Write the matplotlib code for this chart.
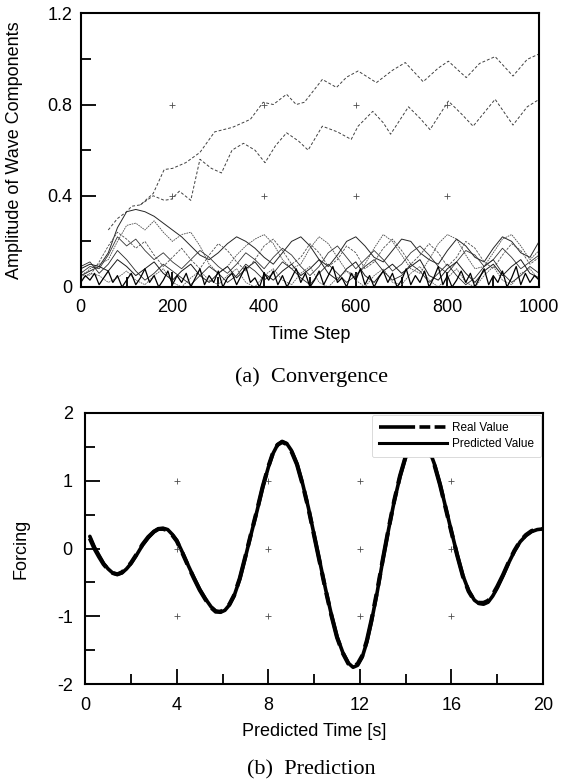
import matplotlib
matplotlib.use('Agg')
import matplotlib.pyplot as plt
from matplotlib.ticker import MultipleLocator, FixedLocator
import matplotlib.lines as mlines

plt.rcParams['font.family'] = ['Liberation Sans', 'DejaVu Sans']
plt.rcParams['axes.unicode_minus'] = False

# ---------------- data: (a) convergence ----------------
step20 = list(range(0, 1001, 20))
step10 = list(range(0, 1001, 10))

low_1 = [0.05, 0.07, 0.09, 0.15, 0.26, 0.33, 0.34, 0.33, 0.31, 0.28,
         0.25, 0.22, 0.18, 0.14, 0.12, 0.15, 0.19, 0.22, 0.20, 0.17,
         0.13, 0.10, 0.15, 0.20, 0.22, 0.18, 0.12, 0.09, 0.14, 0.20,
         0.22, 0.18, 0.13, 0.11, 0.16, 0.21, 0.20, 0.15, 0.12, 0.10,
         0.16, 0.21, 0.18, 0.13, 0.11, 0.17, 0.22, 0.20, 0.15, 0.13,
         0.20]
low_2 = [0.04, 0.08, 0.10, 0.12, 0.20, 0.27, 0.28, 0.25, 0.29, 0.24,
         0.20, 0.23, 0.24, 0.18, 0.10, 0.06, 0.09, 0.14, 0.18, 0.21,
         0.23, 0.19, 0.12, 0.08, 0.10, 0.17, 0.22, 0.19, 0.13, 0.07,
         0.05, 0.10, 0.17, 0.23, 0.20, 0.14, 0.08, 0.06, 0.12, 0.19,
         0.23, 0.21, 0.14, 0.08, 0.09, 0.15, 0.21, 0.23, 0.18, 0.12,
         0.16]
low_3 = [0.06, 0.09, 0.08, 0.14, 0.22, 0.18, 0.21, 0.16, 0.12, 0.15,
         0.11, 0.08, 0.12, 0.16, 0.13, 0.09, 0.06, 0.10, 0.15, 0.12,
         0.08, 0.13, 0.17, 0.14, 0.09, 0.05, 0.09, 0.15, 0.18, 0.13,
         0.08, 0.12, 0.16, 0.12, 0.07, 0.10, 0.15, 0.18, 0.14, 0.09,
         0.06, 0.11, 0.16, 0.14, 0.09, 0.12, 0.17, 0.13, 0.08, 0.11,
         0.14]
low_4 = [0.08, 0.10, 0.09, 0.07, 0.12, 0.09, 0.05, 0.08, 0.11, 0.06,
         0.03, 0.07, 0.10, 0.05, 0.02, 0.06, 0.09, 0.04, 0.08, 0.11,
         0.06, 0.03, 0.07, 0.10, 0.05, 0.08, 0.12, 0.06, 0.03, 0.08,
         0.11, 0.05, 0.02, 0.07, 0.10, 0.06, 0.09, 0.12, 0.05, 0.03,
         0.08, 0.11, 0.06, 0.02, 0.07, 0.10, 0.05, 0.09, 0.12, 0.06,
         0.04]
low_5 = [0.03, 0.06, 0.05, 0.02, 0.04, 0.07, 0.03, 0.01, 0.05, 0.08,
         0.02, 0.00, 0.04, 0.07, 0.03, 0.01, 0.05, 0.08, 0.02, 0.00,
         0.05, 0.08, 0.03, 0.01, 0.06, 0.09, 0.02, 0.00, 0.04, 0.07,
         0.03, 0.00, 0.05, 0.08, 0.02, 0.01, 0.06, 0.09, 0.03, 0.00,
         0.04, 0.08, 0.02, 0.00, 0.05, 0.09, 0.03, 0.01, 0.06, 0.08,
         0.03]
low_6 = [0.07, 0.05, 0.11, 0.18, 0.24, 0.21, 0.17, 0.20, 0.14, 0.09,
         0.13, 0.17, 0.12, 0.08, 0.14, 0.19, 0.16, 0.11, 0.07, 0.12,
         0.18, 0.21, 0.16, 0.10, 0.13, 0.19, 0.15, 0.09, 0.12, 0.18,
         0.15, 0.08, 0.11, 0.17, 0.21, 0.16, 0.10, 0.14, 0.19, 0.15,
         0.09, 0.13, 0.20, 0.17, 0.11, 0.08, 0.14, 0.19, 0.16, 0.10,
         0.13]
low_7 = [0.09, 0.11, 0.06, 0.10, 0.16, 0.12, 0.07, 0.03, 0.06, 0.10,
         0.07, 0.04, 0.01, 0.05, 0.09, 0.06, 0.02, 0.05, 0.10, 0.07,
         0.03, 0.06, 0.11, 0.08, 0.04, 0.01, 0.06, 0.10, 0.06, 0.02,
         0.05, 0.09, 0.12, 0.07, 0.03, 0.05, 0.10, 0.07, 0.02, 0.06,
         0.10, 0.05, 0.01, 0.04, 0.09, 0.12, 0.06, 0.02, 0.05, 0.09,
         0.06]
spiky = [0.02, 0.05, 0.03, 0.06, 0.01, 0.04, 0.07, 0.02, 0.05, 0.00,
         0.03, 0.06, 0.01, 0.04, 0.08, 0.02, 0.05, 0.00, 0.03, 0.07,
         0.01, 0.05, 0.02, 0.06, 0.00, 0.04, 0.08, 0.01, 0.05, 0.02,
         0.07, 0.00, 0.04, 0.06, 0.01, 0.05, 0.09, 0.02, 0.04, 0.00,
         0.06, 0.03, 0.07, 0.01, 0.05, 0.00, 0.04, 0.08, 0.02, 0.06,
         0.00, 0.03, 0.07, 0.01, 0.05, 0.09, 0.02, 0.04, 0.00, 0.06,
         0.03, 0.08, 0.01, 0.05, 0.00, 0.04, 0.07, 0.02, 0.06, 0.00,
         0.03, 0.08, 0.01, 0.05, 0.02, 0.07, 0.00, 0.04, 0.09, 0.01,
         0.05, 0.00, 0.03, 0.07, 0.02, 0.06, 0.00, 0.04, 0.08, 0.01,
         0.05, 0.02, 0.07, 0.00, 0.04, 0.09, 0.01, 0.06, 0.02, 0.05,
         0.03]

up1_t = [60, 80, 100, 111, 130, 158, 182, 200, 229, 260, 292, 331, 370, 398, 420, 449,
         470, 488, 527, 558, 580, 605, 645, 680, 708, 747, 780, 802, 841, 870, 904,
         943, 974, 998]
up1_v = [0.25, 0.30, 0.33, 0.354, 0.36, 0.41, 0.515, 0.52, 0.545, 0.59, 0.68, 0.70,
         0.735, 0.81, 0.80, 0.845, 0.80, 0.81, 0.91, 0.875, 0.92, 0.947, 0.896, 0.95,
         0.984, 0.90, 0.96, 0.99, 0.918, 0.98, 1.01, 0.925, 0.998, 1.02]
up2_t = [130, 158, 182, 198, 215, 240, 260, 285, 307, 330, 355, 380, 402, 425, 449,
         475, 496, 527, 560, 590, 605, 637, 660, 676, 715, 740, 762, 802, 830, 856,
         904, 943, 974, 998]
up2_v = [0.36, 0.40, 0.38, 0.385, 0.42, 0.38, 0.56, 0.52, 0.50, 0.60, 0.63, 0.60,
         0.545, 0.62, 0.676, 0.64, 0.60, 0.705, 0.68, 0.647, 0.705, 0.77, 0.72, 0.67,
         0.79, 0.74, 0.69, 0.815, 0.76, 0.705, 0.823, 0.71, 0.79, 0.82]

# ---------------- data: (b) prediction ----------------
pred_t = [0.2, 0.4, 0.6, 0.8, 1.0, 1.2, 1.4, 1.6, 1.8, 2.0, 2.25, 2.5, 2.75, 3.0,
          3.2, 3.4, 3.6, 3.8, 4.0, 4.25, 4.5, 4.75, 5.0, 5.25, 5.5, 5.7, 5.9, 6.1,
          6.3, 6.5, 6.75, 7.0, 7.25, 7.5, 7.75, 8.0, 8.2, 8.4, 8.6, 8.8, 9.0, 9.25,
          9.5, 9.75, 10.0, 10.25, 10.5, 10.75, 11.0, 11.25, 11.5, 11.7, 11.9, 12.1,
          12.3, 12.5, 12.75, 13.0, 13.25, 13.5, 13.75, 14.0, 14.2, 14.4, 14.6, 14.8,
          15.0, 15.25, 15.5, 15.75, 16.0, 16.25, 16.5, 16.75, 17.0, 17.2, 17.4, 17.6,
          17.8, 18.0, 18.25, 18.5, 18.75, 19.0, 19.25, 19.5, 19.75, 20.0]
predicted = [0.18, 0.02, -0.10, -0.22, -0.30, -0.36, -0.38, -0.36, -0.30, -0.22,
             -0.09, 0.05, 0.16, 0.25, 0.29, 0.30, 0.28, 0.21, 0.12, -0.06,
             -0.25, -0.43, -0.60, -0.74, -0.86, -0.92, -0.94, -0.91, -0.83, -0.70,
             -0.45, -0.12, 0.22, 0.55, 0.90, 1.20, 1.40, 1.53, 1.58, 1.55,
             1.45, 1.25, 0.95, 0.60, 0.20, -0.20, -0.60, -0.97, -1.30, -1.53,
             -1.69, -1.75, -1.72, -1.60, -1.38, -1.08, -0.65, -0.17, 0.28, 0.70,
             1.06, 1.35, 1.52, 1.61, 1.63, 1.59, 1.48, 1.25, 0.95, 0.60,
             0.25, -0.09, -0.40, -0.62, -0.76, -0.81, -0.82, -0.79, -0.70, -0.58,
             -0.40, -0.21, -0.04, 0.10, 0.19, 0.25, 0.28, 0.29]
real = [0.15, 0.00, -0.12, -0.23, -0.31, -0.36, -0.38, -0.35, -0.29, -0.21,
        -0.08, 0.06, 0.17, 0.25, 0.29, 0.29, 0.27, 0.20, 0.11, -0.07,
        -0.26, -0.44, -0.61, -0.75, -0.87, -0.93, -0.93, -0.90, -0.82, -0.69,
        -0.44, -0.11, 0.23, 0.56, 0.91, 1.21, 1.41, 1.53, 1.57, 1.54,
        1.44, 1.24, 0.94, 0.59, 0.19, -0.21, -0.61, -0.98, -1.31, -1.54,
        -1.70, -1.74, -1.70, -1.58, -1.36, -1.06, -0.63, -0.16, 0.29, 0.71,
        1.07, 1.36, 1.52, 1.60, 1.62, 1.58, 1.47, 1.24, 0.94, 0.59,
        0.24, -0.10, -0.41, -0.63, -0.77, -0.80, -0.80, -0.77, -0.68, -0.56,
        -0.39, -0.20, -0.03, 0.11, 0.20, 0.26, 0.28, 0.29]

serif = ['Liberation Serif', 'DejaVu Serif']

fig = plt.figure(figsize=(5.61, 7.82), dpi=100)
ax1 = fig.add_axes([0.144, 0.633, 0.817, 0.350])
ax2 = fig.add_axes([0.152, 0.125, 0.816, 0.347])

# ---- panel (a) ----
for xs, ys, c, lw, ls in [(step20, low_1, '0.15', 0.7, '-'),
                          (step20, low_2, '0.3', 0.6, (0, (2, 1))),
                          (step20, low_3, '0.2', 0.6, '-'),
                          (step20, low_4, '0.1', 0.7, '-'),
                          (step20, low_5, '0.35', 0.6, (0, (2, 1))),
                          (step20, low_6, '0.3', 0.6, (0, (3, 1.5))),
                          (step20, low_7, '0.15', 0.6, '-'),
                          (step10, spiky, '0.0', 0.9, '-')]:
    ax1.plot(xs, ys, color=c, lw=lw, ls=ls)
ax1.plot(up1_t, up1_v, color='0.25', lw=0.7, ls=(0, (3, 2)))
ax1.plot(up2_t, up2_v, color='0.25', lw=0.7, ls=(0, (3, 2)))

ax1.set_xlim(0, 1000)
ax1.set_ylim(0, 1.2)
ax1.xaxis.set_major_locator(MultipleLocator(200))
ax1.xaxis.set_minor_locator(MultipleLocator(100))
ax1.set_yticks([0, 0.4, 0.8, 1.2])
ax1.set_yticklabels(['0', '0.4', '0.8', '1.2'])
ax1.yaxis.set_minor_locator(FixedLocator([0.2, 0.6, 1.0]))
ax1.set_xlabel('Time Step', fontsize=13, labelpad=7)
ax1.set_ylabel('Amplitude of Wave Components', fontsize=13)
ax1.yaxis.set_label_coords(-0.125, 0.5)
for gx in [200, 400, 600, 800]:
    for gy in [0.4, 0.8]:
        ax1.plot(gx, gy, marker='+', color='0.3', ms=4, mew=0.6)

# ---- panel (b) ----
ax2.plot(pred_t, predicted, color='black', lw=2.6, solid_joinstyle='round',
         solid_capstyle='round')
ax2.plot(pred_t, real, color='black', lw=3.0, ls=(0, (8, 2, 3, 2, 3, 2)),
         dash_joinstyle='round')
ax2.set_xlim(0, 20)
ax2.set_ylim(-2, 2)
ax2.xaxis.set_major_locator(MultipleLocator(4))
ax2.xaxis.set_minor_locator(MultipleLocator(2))
ax2.yaxis.set_major_locator(MultipleLocator(1))
ax2.yaxis.set_minor_locator(MultipleLocator(0.5))
ax2.set_xlabel('Predicted Time [s]', fontsize=13, labelpad=7)
ax2.set_ylabel('Forcing', fontsize=13)
ax2.yaxis.set_label_coords(-0.122, 0.5)
for gx in [4, 8, 12, 16]:
    for gy in [-1, 0, 1]:
        ax2.plot(gx, gy, marker='+', color='0.3', ms=4, mew=0.6)

h_real = mlines.Line2D([], [], color='black', lw=2.6, ls=(0, (10, 1.2, 3, 1.2, 3, 1.2)))
h_pred = mlines.Line2D([], [], color='black', lw=2.2)
leg = ax2.legend([h_real, h_pred], ['Real Value', 'Predicted Value'],
                 loc='upper right', fontsize=8.5, handlelength=5.8, handletextpad=0.4,
                 labelspacing=0.35, borderpad=0.6, fancybox=True, framealpha=1,
                 borderaxespad=0.15)
leg.get_frame().set_edgecolor('0.8')
leg.get_frame().set_linewidth(0.5)

for ax, ypad in ((ax1, 6), (ax2, 9)):
    for s in ax.spines.values():
        s.set_linewidth(1.5)
    ax.tick_params(which='major', direction='in', length=11, width=1.3,
                   labelsize=13, top=False, right=False)
    ax.tick_params(which='minor', direction='in', length=7, width=1.3,
                   top=False, right=False)
    ax.tick_params(axis='x', which='major', pad=9)
    ax.tick_params(axis='y', which='major', pad=ypad)

fig.text(0.555, 0.518, '(a)  Convergence', ha='center', va='center',
         fontsize=16, family=serif)
fig.text(0.555, 0.016, '(b)  Prediction', ha='center', va='center',
         fontsize=16, family=serif)

fig.savefig('out.png', dpi=100)
